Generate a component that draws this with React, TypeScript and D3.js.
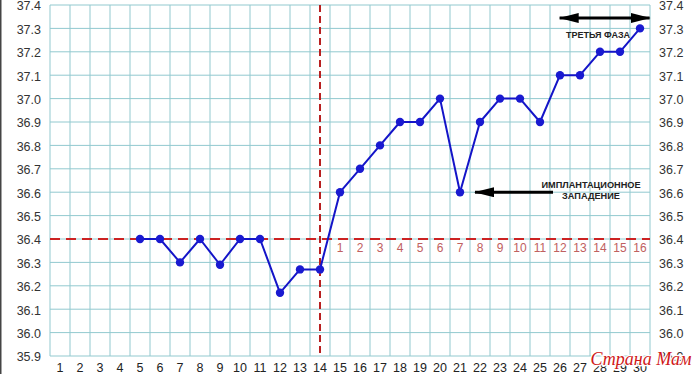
import React from "react";
import * as d3 from "d3";

const days: number[] = d3.range(1, 31);
const tempDays: number[] = [5, 6, 7, 8, 9, 10, 11, 12, 13, 14, 15, 16, 17, 18, 19, 20, 21, 22, 23, 24, 25, 26, 27, 28, 29, 30];
const temps: number[] = [36.4, 36.4, 36.3, 36.4, 36.29, 36.4, 36.4, 36.17, 36.27, 36.27, 36.6, 36.7, 36.8, 36.9, 36.9, 37.0, 36.6, 36.9, 37.0, 37.0, 36.9, 37.1, 37.1, 37.2, 37.2, 37.3];
const yTicks: number[] = [35.9, 36.0, 36.1, 36.2, 36.3, 36.4, 36.5, 36.6, 36.7, 36.8, 36.9, 37.0, 37.1, 37.2, 37.3, 37.4];
const coverLine = 36.4;
const ovulationDay = 14;
const phaseLabels: number[] = d3.range(1, 17);
const phaseStartDay = 15;
const dipDay = 21;

export default function App() {
  const W = 700, H = 374;
  const x = d3.scaleLinear().domain([0.5, 30.5]).range([50, 650]);
  const y = d3.scaleLinear().domain([35.9, 37.4]).range([356, 5]);
  const pts = tempDays.map((d, i) => [x(d), y(temps[i])] as [number, number]);
  const line = d3.line<[number, number]>()(pts) || "";
  const grid = "#92c9cf";
  const font = "Arial, 'Liberation Sans', sans-serif";
  const gridX = d3.range(0, 31).map((i) => x(0.5 + i));
  return (
    <svg width={W} height={H} style={{ position: "absolute", left: 0, top: 0, background: "#fff" }} fontFamily={font}>
      <defs>
        <marker id="ah" viewBox="0 0 20 10" refX="19" refY="5" markerWidth="6.7" markerHeight="3.4" markerUnits="strokeWidth" orient="auto-start-reverse">
          <path d="M0,0 L20,5 L0,10 z" fill="#000" />
        </marker>
      </defs>
      <rect x={0} y={0} width={W} height={H} fill="#fff" />
      <line x1={0.75} x2={0.75} y1={0} y2={H} stroke="#444" strokeWidth={1.5} />
      {yTicks.map((t) => (
        <line key={"h" + t} x1={x(0.5)} x2={x(30.5)} y1={y(t)} y2={y(t)} stroke={grid} strokeWidth={1} />
      ))}
      {gridX.map((gx, i) => (
        <line key={"v" + i} x1={gx} x2={gx} y1={y(37.4)} y2={y(35.9)} stroke={grid} strokeWidth={1} />
      ))}
      {yTicks.map((t) => (
        <text key={"l" + t} x={41} y={y(t) + 1} dy="0.35em" textAnchor="end" fontSize={12.5} fill="#333">{t.toFixed(1)}</text>
      ))}
      {yTicks.map((t) => (
        <text key={"r" + t} x={659} y={y(t) + 1} dy="0.35em" textAnchor="start" fontSize={12.5} fill="#333">{t.toFixed(1)}</text>
      ))}
      {days.map((d) => (
        <text key={"d" + d} x={x(d)} y={372} textAnchor="middle" fontSize={12.5} fill="#222">{d}</text>
      ))}
      {phaseLabels.map((p) => (
        <text key={"p" + p} x={x(phaseStartDay + p - 1)} y={y(coverLine) + 13} textAnchor="middle" fontSize={12} fill="#c06060">{p}</text>
      ))}
      <line x1={x(0.5)} x2={x(30.5)} y1={y(coverLine)} y2={y(coverLine)} stroke="#cc2222" strokeWidth={2} strokeDasharray="10,6" />
      <line x1={x(ovulationDay)} x2={x(ovulationDay)} y1={y(37.4)} y2={y(35.9)} stroke="#b82020" strokeWidth={2} strokeDasharray="7,4" />
      <path d={line} fill="none" stroke="#1414c8" strokeWidth={2} strokeLinejoin="round" />
      {pts.map((p, i) => (
        <circle key={"c" + i} cx={p[0]} cy={p[1]} r={4.2} fill="#1a1ad0" />
      ))}
      <line x1={x(25.98)} x2={x(30.48)} y1={18} y2={18} stroke="#000" strokeWidth={3} markerStart="url(#ah)" markerEnd="url(#ah)" />
      <text x={598} y={38} textAnchor="middle" fontSize={9} fontWeight="bold" fill="#222">ТРЕТЬЯ ФАЗА</text>
      <line x1={553} x2={x(dipDay) + 15} y1={y(36.6)} y2={y(36.6)} stroke="#000" strokeWidth={3} markerEnd="url(#ah)" />
      <text x={591} y={188} textAnchor="middle" fontSize={9.2} fontWeight="bold" fill="#222">ИМПЛАНТАЦИОННОЕ</text>
      <text x={591} y={199} textAnchor="middle" fontSize={9.2} fontWeight="bold" fill="#222">ЗАПАДЕНИЕ</text>
      <text x={641} y={365} textAnchor="middle" fontSize={18} fontStyle="italic" fontFamily="'Liberation Serif', serif" fill="#d01818" stroke="#fff" strokeWidth={2.5} paintOrder="stroke">Страна Мам</text>
    </svg>
  );
}
